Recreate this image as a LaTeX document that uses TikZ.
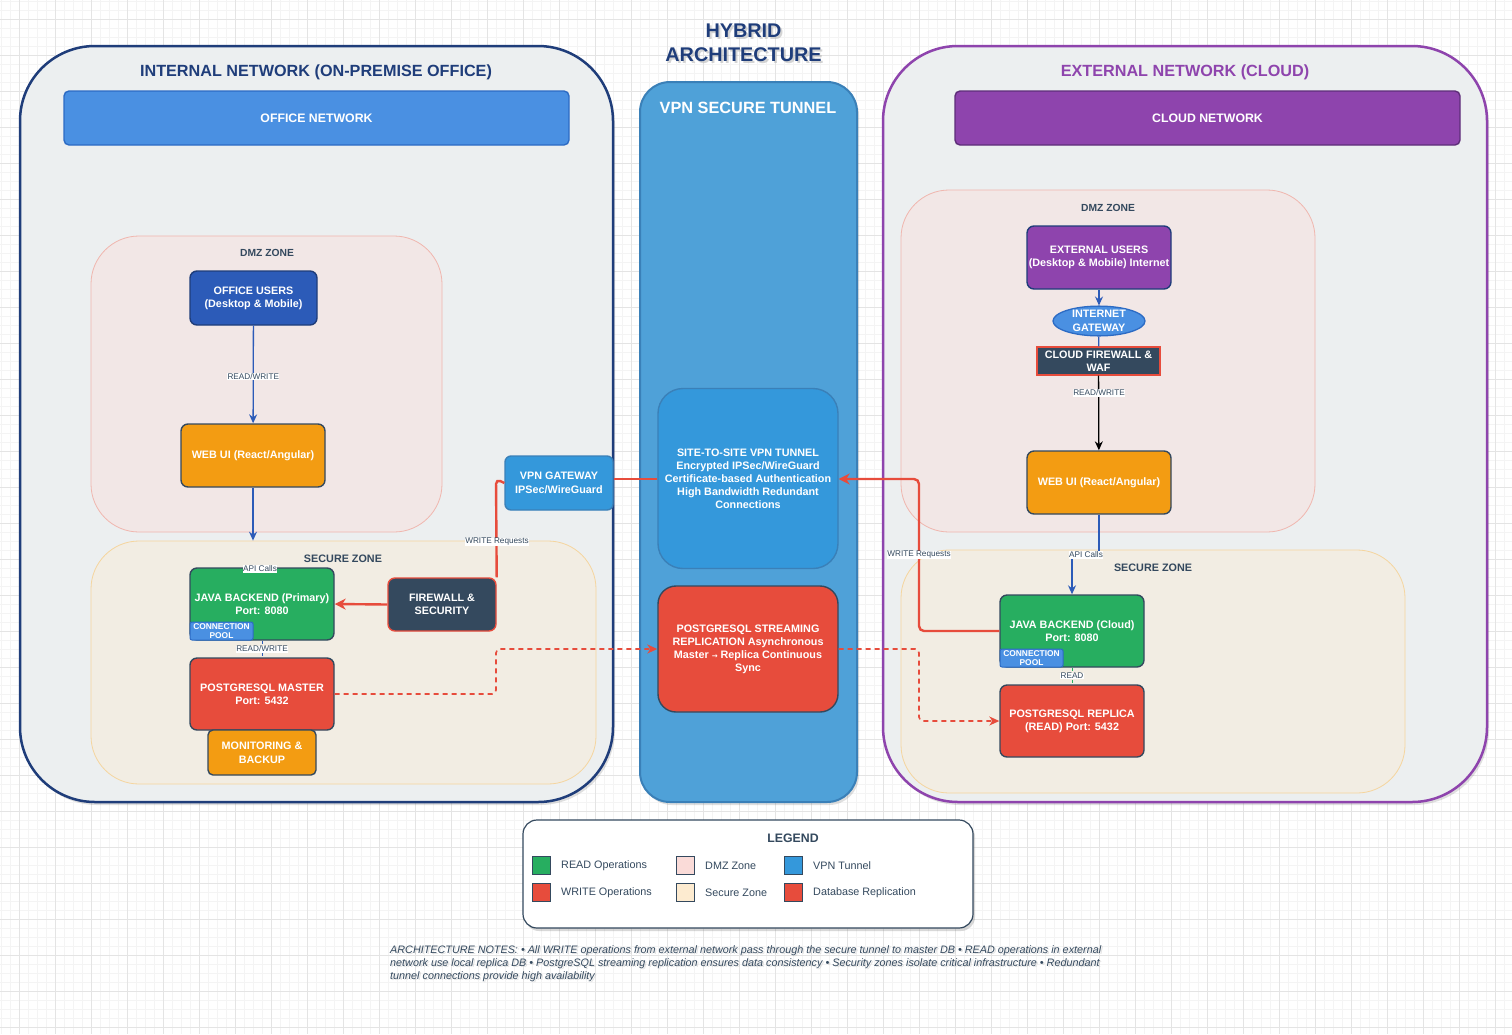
\documentclass[tikz,border=0pt]{standalone}
\usepackage{fontspec}
\setmainfont{Liberation Sans}
\usetikzlibrary{arrows.meta,shapes.geometric,shadows}
\definecolor{navy}{HTML}{1F3D7A}
\definecolor{purp}{HTML}{8E44AD}
\definecolor{darkpurp}{HTML}{5E2D79}
\definecolor{slate}{HTML}{34495E}
\definecolor{greenc}{HTML}{27AE60}
\definecolor{redc}{HTML}{E74C3C}
\definecolor{orangec}{HTML}{F39C12}
\definecolor{bluec}{HTML}{4A90E2}
\definecolor{blueb}{HTML}{2C6BC4}
\definecolor{skyc}{HTML}{3498DB}
\definecolor{tunnelc}{HTML}{4FA1D8}
\definecolor{tunnelb}{HTML}{3A80B8}
\definecolor{userc}{HTML}{2C5BB8}
\definecolor{panel}{HTML}{ECEFF0}
\definecolor{dmzfill}{HTML}{F2E7E6}
\definecolor{dmzline}{HTML}{F0B6AE}
\definecolor{secfill}{HTML}{F2EDE3}
\definecolor{secline}{HTML}{F5D59E}
\definecolor{gridmaj}{HTML}{E4E4E4}
\definecolor{gridmin}{HTML}{F4F4F4}
\definecolor{txt}{HTML}{34495E}
\definecolor{swpink}{HTML}{FADBD8}
\definecolor{swcream}{HTML}{FDEBD0}
\newcommand{\fsz}[2]{\fontsize{#1}{#2}\selectfont}
\begin{document}
\begin{tikzpicture}[x=1pt,y=-1pt,
  container/.style={line width=2.5pt, rounded corners=75pt, fill=panel, inner sep=0pt,
     drop shadow={opacity=0.25,shadow xshift=2pt,shadow yshift=-3pt}},
  zone/.style={line width=0.8pt, rounded corners=48pt, inner sep=0pt},
  box/.style={draw=slate, line width=1.4pt, rounded corners=7pt, text=white, align=center,
     font=\bfseries\fsz{10.8}{13}, inner sep=1pt},
  pool/.style={draw=blueb, fill=bluec, line width=1pt, rounded corners=2pt, text=white,
     align=center, font=\bfseries\fsz{8.4}{9.5}, inner sep=0pt,
     minimum width=63pt, minimum height=18pt},
  ztitle/.style={font=\bfseries\fsz{10.3}{12}, text=txt},
  elabel/.style={fill=white, font=\fsz{8.2}{10}, text=txt, inner sep=0.5pt},
  bluearrow/.style={draw=userc, line width=1.3pt, -{Stealth[length=9pt,width=8pt,inset=3pt]}},
  blueline/.style={draw=userc, line width=1.3pt},
  redline/.style={draw=redc, line width=2.4pt, rounded corners=5pt},
  redarrow/.style={draw=redc, line width=2.4pt, rounded corners=5pt, -{Stealth[length=11pt,width=11pt,inset=3.5pt]}},
  repl/.style={draw=redc, line width=1.6pt, dash pattern=on 5pt off 4pt, rounded corners=4pt,
     -{Stealth[length=10pt,width=9pt,inset=3pt]}},
  swatch/.style={draw=slate, line width=0.8pt, minimum width=18pt, minimum height=18pt, inner sep=0pt},
  legtext/.style={font=\fsz{10.8}{13}, text=txt, anchor=west, inner sep=0pt},
  notestyle/.style={anchor=north west, align=left, font=\itshape\fsz{10.8}{13.2}, inner sep=0pt}
]
\useasboundingbox (0,0) rectangle (1512,1034);
\fill[white] (0,0) rectangle (1512,1034);
% grid
\foreach \i in {0,...,168} {\draw[gridmin, line width=0.5pt] (1.5+9*\i,0) -- (1.5+9*\i,1034);}
\foreach \i in {0,...,115} {\draw[gridmin, line width=0.5pt] (0,1.5+9*\i) -- (1512,1.5+9*\i);}
\foreach \i in {0,...,41} {\draw[gridmaj, line width=0.7pt] (19.5+36*\i,0) -- (19.5+36*\i,1034);}
\foreach \i in {0,...,28} {\draw[gridmaj, line width=0.7pt] (0,19.5+36*\i) -- (1512,19.5+36*\i);}

% title
\node[text=gray!60, opacity=0.55, font=\bfseries\fsz{19.8}{24}, align=center] (titleshadow) at (745.5,44.5) {HYBRID\\ARCHITECTURE};
\node[text=navy, font=\bfseries\fsz{19.8}{24}, align=center] (title) at (743.5,42.5) {HYBRID\\ARCHITECTURE};

% containers
\node[container, draw=navy, minimum width=593pt, minimum height=756pt] (internal) at (316.5,424) {};
\node[container, draw=purp, minimum width=604pt, minimum height=756pt] (external) at (1185,424) {};
\node[line width=2pt, draw=tunnelb, fill=tunnelc, rounded corners=30pt, minimum width=217pt, minimum height=720pt, inner sep=0pt,
   drop shadow={opacity=0.25,shadow xshift=2pt,shadow yshift=-3pt}] (tunnel) at (748.5,442) {};

\node[font=\bfseries\fsz{16.2}{19}, text=navy] (intitle) at (316,72) {INTERNAL NETWORK (ON-PREMISE OFFICE)};
\node[font=\bfseries\fsz{16.2}{19}, text=purp] (extitle) at (1185,72) {EXTERNAL NETWORK (CLOUD)};
\node[font=\bfseries\fsz{16.3}{19}, text=white] (tuntitle) at (748,107.5) {VPN SECURE TUNNEL};

% network bars
\node[draw=blueb, fill=bluec, line width=1.4pt, rounded corners=5pt, minimum width=505pt, minimum height=54pt,
   text=white, font=\bfseries\fsz{12.3}{14}] (officenet) at (316.5,118) {OFFICE NETWORK};
\node[draw=darkpurp, fill=purp, line width=1.4pt, rounded corners=5pt, minimum width=505pt, minimum height=54pt,
   text=white, font=\bfseries\fsz{12.3}{14}] (cloudnet) at (1207.5,118) {CLOUD NETWORK};

% zones
\node[zone, draw=dmzline, fill=dmzfill, minimum width=351pt, minimum height=296pt] (dmzL) at (266.5,384) {};
\node[zone, draw=secline, fill=secfill, minimum width=505pt, minimum height=243pt] (secL) at (343.5,662.5) {};
\node[zone, draw=dmzline, fill=dmzfill, minimum width=414pt, minimum height=342pt] (dmzR) at (1108,361) {};
\node[zone, draw=secline, fill=secfill, minimum width=504pt, minimum height=243pt] (secR) at (1153,671.5) {};
\node[ztitle] (dmzLt) at (267,252.5) {DMZ ZONE};
\node[ztitle, font=\bfseries\fsz{10.8}{13}] (secLt) at (343,558.5) {SECURE ZONE};
\node[ztitle] (dmzRt) at (1108,207.5) {DMZ ZONE};
\node[ztitle, font=\bfseries\fsz{10.8}{13}] (secRt) at (1153,567.5) {SECURE ZONE};

% left nodes
\node[box, draw=navy, fill=userc, minimum width=127pt, minimum height=54pt] (ousers) at (253.5,298) {OFFICE USERS\\(Desktop \& Mobile)};
\node[box, fill=orangec, minimum width=144pt, minimum height=63pt] (webL) at (253,455.5) {WEB UI (React/Angular)};
\node[box, fill=greenc, minimum width=144pt, minimum height=72pt] (javaP) at (262,604) {JAVA BACKEND (Primary)\\Port: 8080};
\node[pool] (poolP) at (221.5,631) {CONNECTION\\POOL};
\node[box, draw=redc, fill=slate, minimum width=108pt, minimum height=53pt] (fw) at (442,604.5) {FIREWALL \&\\SECURITY};
\node[box, fill=redc, minimum width=144pt, minimum height=72pt] (master) at (262,694) {POSTGRESQL MASTER\\Port: 5432};
\node[box, fill=orangec, rounded corners=5pt, minimum width=108pt, minimum height=45pt, font=\bfseries\fsz{10.8}{14}] (mon) at (262,752.5) {MONITORING \&\\BACKUP};
\node[box, draw=tunnelb, fill=skyc, rounded corners=6pt, minimum width=108pt, minimum height=54pt, font=\bfseries\fsz{10.8}{14}] (vpngw) at (559,483) {VPN GATEWAY\\IPSec/WireGuard};

% tunnel nodes
\node[box, draw=tunnelb, fill=skyc, rounded corners=25pt, minimum width=180pt, minimum height=180pt] (s2s) at (748,478.5)
  {SITE-TO-SITE VPN TUNNEL\\Encrypted IPSec/WireGuard\\Certificate-based Authentication\\High Bandwidth Redundant\\Connections};
\node[box, fill=redc, rounded corners=18pt, minimum width=180pt, minimum height=126pt] (replbox) at (748,649)
  {POSTGRESQL STREAMING\\REPLICATION Asynchronous\\Master {\fontspec{DejaVu Sans}\fsz{7}{9}→} Replica Continuous\\Sync};

% right nodes
\node[box, draw=navy, fill=purp, minimum width=144pt, minimum height=63pt] (extusers) at (1099,257.5) {EXTERNAL USERS\\(Desktop \& Mobile) Internet};
\node[ellipse, draw=blueb, fill=bluec, line width=1.3pt, minimum width=92pt, minimum height=27pt, inner sep=0pt,
   text=white, font=\bfseries\fsz{10.8}{13.5}, align=center] (igw) at (1099,321) {INTERNET\\GATEWAY};
\node[box, draw=redc, fill=slate, rounded corners=0pt, minimum width=123pt, minimum height=28pt, inner sep=0pt] (cfw) at (1098.5,361) {CLOUD FIREWALL \&\\WAF};
\node[box, fill=orangec, minimum width=144pt, minimum height=63pt] (webR) at (1099,482.5) {WEB UI (React/Angular)};
\node[box, fill=greenc, minimum width=144pt, minimum height=72pt] (javaC) at (1072,631) {JAVA BACKEND (Cloud)\\Port: 8080};
\node[pool] (poolC) at (1031.5,658) {CONNECTION\\POOL};
\node[box, fill=redc, minimum width=144pt, minimum height=72pt] (replica) at (1072,721) {POSTGRESQL REPLICA\\(READ) Port: 5432};

% coordinates
\coordinate (wl) at (496,479);
\coordinate (wr) at (919,479);
\coordinate (ml) at (496,649);
\coordinate (mr) at (919,649);
\coordinate (apiL) at (1099,555);
\coordinate (apiR) at (1072,555);

% left connectors
\draw[bluearrow] (ousers) -- (webL) node[elabel, pos=0.52] (lab1) {READ/WRITE};
\draw[bluearrow] (webL.south) -- (webL.south |- secL.north);
\node[elabel] (lab2) at (260,569) {API Calls};
\draw[draw=userc, line width=0.8pt, dashed] (javaP.south) -- (master.north) node[elabel, midway] (lab3) {READ/WRITE};
\draw[redline] (vpngw.west) -- (wl) -- (fw.north east);
\node[elabel] (lab4) at (497,542) {WRITE Requests};
\draw[redarrow] (fw.west) -- (javaP.east);
\draw[redline, rounded corners=0pt] (s2s.west |- wl) -- (vpngw.east |- wl);
\draw[repl] (master.east) -- (496,694) -- (ml) -- (replbox.west);
\draw[repl] (replbox.east) -- (mr) -- (919,721) -- (replica.west);

% right connectors
\draw[redarrow] (javaC.west) -- (919,631) -- (wr) -- (s2s.east |- wr);
\node[elabel] (lab5) at (919,555) {WRITE Requests};
\draw[bluearrow] (extusers) -- (igw);
\draw[blueline] (igw) -- (cfw);
\draw[draw=black, line width=1.3pt, -{Stealth[length=9pt,width=8pt,inset=3pt]}] (cfw) -- (webR);
\node[elabel] (lab6) at (1099,393) {READ/WRITE};
\draw[bluearrow] (webR.south) -- (apiL) -- (apiR) -- (javaC.north);
\node[elabel] (lab7) at (1086,555) {API Calls};
\draw[draw=greenc, line width=0.8pt, dashed] (javaC.south) -- (replica.north) node[elabel, midway] (lab8) {READ};

% legend
\node[draw=slate, fill=white, line width=1.2pt, rounded corners=14pt, minimum width=450pt, minimum height=108pt,
  drop shadow={opacity=0.3,shadow xshift=2pt,shadow yshift=-3pt}] (legend) at (748,874) {};
\node[font=\bfseries\fsz{12.3}{14}, text=txt] (legt) at (793,838.5) {LEGEND};
\node[swatch, fill=greenc] (sw1) at (541,865) {};
\node[swatch, fill=redc] (sw2) at (541,892) {};
\node[swatch, fill=swpink] (sw3) at (685,865) {};
\node[swatch, fill=swcream] (sw4) at (685,892) {};
\node[swatch, fill=skyc] (sw5) at (793,865) {};
\node[swatch, fill=redc] (sw6) at (793,892) {};
\node[legtext] (lt1) at (561,865.5) {READ Operations};
\node[legtext] (lt2) at (561,892.5) {WRITE Operations};
\node[legtext] (lt3) at (705,865.5) {DMZ Zone};
\node[legtext] (lt4) at (705,892.5) {Secure Zone};
\node[legtext] (lt5) at (813,865.5) {VPN Tunnel};
\node[legtext] (lt6) at (813,892.5) {Database Replication};

% notes
\node[notestyle, text=gray!50, opacity=0.45] (notesh) at (391.5,946.5)
{ARCHITECTURE NOTES: • All WRITE operations from external network pass through the secure tunnel to master DB • READ operations in external\\
network use local replica DB • PostgreSQL streaming replication ensures data consistency • Security zones isolate critical infrastructure • Redundant\\
tunnel connections provide high availability};
\node[notestyle, text=txt] (notes) at (390,945)
{ARCHITECTURE NOTES: • All WRITE operations from external network pass through the secure tunnel to master DB • READ operations in external\\
network use local replica DB • PostgreSQL streaming replication ensures data consistency • Security zones isolate critical infrastructure • Redundant\\
tunnel connections provide high availability};
\end{tikzpicture}
\end{document}
